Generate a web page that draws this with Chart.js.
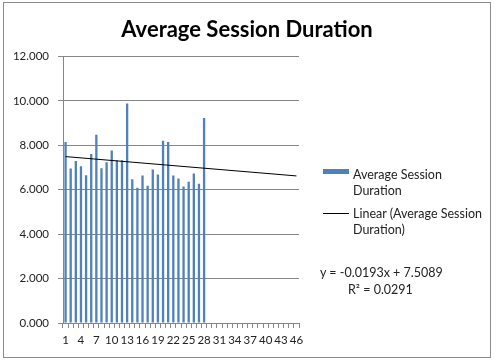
<!DOCTYPE html>
<html>
<head>
<meta charset="utf-8">
<script src="https://cdn.jsdelivr.net/npm/chart.js@4"></script>
<style>
  body { margin: 0; background: #fff; width: 496px; height: 361px; overflow: hidden; }
  #frame { position: absolute; left: 3px; top: 2px; width: 488px; height: 356px; border: 1px solid #8c8c8c; box-sizing: border-box; background: #fff; }
  #myChart { position: absolute; left: 0; top: 0; }
  .lg { position: absolute; font-family: Lato, "Open Sans", sans-serif; font-size: 12.5px; color: #222; line-height: 16px; }
  .sw { position: absolute; }
</style>
</head>
<body>
<div id="frame">
  <canvas id="myChart" width="486" height="354"></canvas>
  <div class="sw" style="left:319px;top:166px;width:26px;height:5px;background:#4F81BD"></div>
  <div class="lg" style="left:349px;top:164px">Average Session<br>Duration</div>
  <div class="sw" style="left:319px;top:210px;width:26px;height:1px;background:#000"></div>
  <div class="lg" style="left:349px;top:203px">Linear (Average Session<br>Duration)</div>
  <div class="lg" style="left:316px;top:262px">y = -0.0193x + 7.5089</div>
  <div class="lg" style="left:344px;top:279px">R² = 0.0291</div>
</div>
<script>
const title = 'Average Session Duration';

// categories 1..46 (only 1..28 have data)
const categories = [];
for (let i = 1; i <= 46; i++) categories.push(String(i));

const sessionDuration = [
  8.15, 6.95, 7.29, 7.06, 6.65, 7.61, 8.47, 6.97, 7.24, 7.77,
  7.32, 7.32, 9.88, 6.47, 6.09, 6.64, 6.18, 6.91, 6.68, 8.20,
  8.15, 6.64, 6.50, 6.14, 6.36, 6.73, 6.27, 9.23
];

// linear trendline end points (x = 1 and x = 46)
const trendStart = 7.49;
const trendEnd = 6.62;
const trend = categories.map((c, i) => i === 0 ? trendStart : (i === categories.length - 1 ? trendEnd : null));

const yTicks = [0, 2, 4, 6, 8, 10, 12];

const data = {
  labels: categories,
  datasets: [
    {
      type: 'line',
      label: 'Linear (Average Session Duration)',
      data: trend,
      borderColor: '#000',
      borderWidth: 1,
      pointRadius: 0,
      spanGaps: true,
      order: 0
    },
    {
      type: 'bar',
      label: 'Average Session Duration',
      data: sessionDuration,
      backgroundColor: '#4F81BD',
      barPercentage: 0.45,
      categoryPercentage: 1,
      order: 1
    }
  ]
};

const config = {
  type: 'bar',
  data: data,
  options: {
    responsive: false,
    animation: false,
    plugins: {
      legend: { display: false },
      tooltip: { enabled: false },
      title: {
        display: true,
        text: title,
        color: '#000',
        font: { family: 'Lato, "Open Sans", sans-serif', size: 22, weight: 'bold' },
        padding: { top: 14, bottom: 13 }
      }
    },
    scales: {
      x: {
        offset: true,
        grid: { offset: true, drawOnChartArea: false, drawTicks: true, tickLength: 5, color: '#868686' },
        border: { color: '#868686' },
        ticks: {
          autoSkip: false,
          maxRotation: 0,
          padding: 5,
          color: '#222',
          font: { family: 'Lato, "Open Sans", sans-serif', size: 11.5 },
          callback: function(v, i) { return i % 3 === 0 ? categories[i] : ''; }
        },
        afterFit: function(s) { s.height = 34; }
      },
      y: {
        min: 0,
        max: 12,
        afterBuildTicks: function(s) { s.ticks = yTicks.map(v => ({ value: v })); },
        grid: { color: '#868686', tickLength: 5 },
        border: { color: '#868686' },
        ticks: {
          padding: 9,
          color: '#222',
          font: { family: 'Lato, "Open Sans", sans-serif', size: 11.5 },
          callback: function(v) { return v.toFixed(3); }
        },
        afterFit: function(s) { s.width = 59; }
      },
      // empty right axis that keeps room for the legend
      side: {
        position: 'right',
        grid: { display: false },
        border: { display: false },
        ticks: { display: false },
        afterFit: function(s) { s.width = 191; }
      }
    }
  }
};

new Chart(document.getElementById('myChart'), config);
</script>
</body>
</html>
